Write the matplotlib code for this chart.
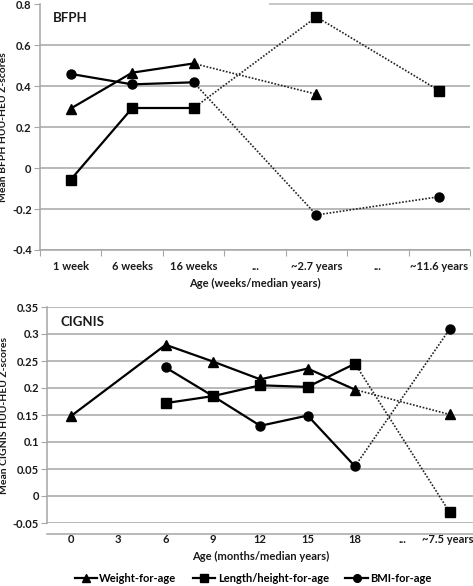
import numpy as np
import matplotlib
matplotlib.use("Agg")
import matplotlib.pyplot as plt
from matplotlib.lines import Line2D

plt.rcParams['font.family'] = ['Lato', 'DejaVu Sans']

# ---- BFPH data ----
bfph_cats = ["1 week", "6 weeks", "16 weeks", "...", "~2.7 years", "...", "~11.6 years"]
bfph_weight = [0.29, 0.465, 0.51, None, 0.36, None, None]
bfph_length = [-0.057, 0.292, 0.292, None, 0.737, None, 0.377]
bfph_bmi = [0.459, 0.408, 0.418, None, -0.229, None, -0.14]
bfph_yticks = [-0.4, -0.2, 0, 0.2, 0.4, 0.6, 0.8]
bfph_ylabels = ["-0.4", "-0.2", "0", "0.2", "0.4", "0.6", "0.8"]

# ---- CIGNIS data ----
cig_cats = ["0", "3", "6", "9", "12", "15", "18", "...", "~7.5 years"]
cig_weight = [0.148, None, 0.28, 0.249, 0.216, 0.236, 0.197, None, 0.151]
cig_length = [None, None, 0.172, 0.185, 0.205, 0.202, 0.245, None, -0.030]
cig_bmi = [None, None, 0.238, 0.185, 0.130, 0.149, 0.055, None, 0.309]
cig_yticks = [-0.05, 0, 0.05, 0.1, 0.15, 0.2, 0.25, 0.3, 0.35]
cig_ylabels = ["-0.05", "0", "0.05", "0.1", "0.15", "0.2", "0.25", "0.3", "0.35"]

series_names = ["Weight-for-age", "Length/height-for-age", "BMI-for-age"]
markers = ["^", "s", "o"]

W, H = 473, 586
fig = plt.figure(figsize=(W / 100, H / 100), dpi=100)
GRID = "#a6a6a6"
TXT = "#1a1a1a"


def draw_series(ax, vals, marker, solid_end):
    idx = [i for i, v in enumerate(vals) if v is not None]
    for a, b in zip(idx[:-1], idx[1:]):
        if b <= solid_end:
            ax.plot([a, b], [vals[a], vals[b]], color="black", lw=1.6,
                    solid_capstyle="round", zorder=3)
        else:
            ax.plot([a, b], [vals[a], vals[b]], color="#222222", lw=1.2,
                    linestyle=(0, (1, 1)), zorder=3)
    ax.plot(idx, [vals[i] for i in idx], linestyle="none", marker=marker,
            color="black", markersize=6.5 if marker != "^" else 7, zorder=4)


def setup(ax, cats, yticks, ylabels, ylim, ylabel, axis_y, tick_len, skip_top_grid,
          xtick_pos=None):
    n = len(cats)
    ax.set_xlim(-0.5, n - 0.5)
    ax.set_ylim(*ylim)
    ax.set_yticks(yticks)
    ax.set_yticklabels(ylabels, fontsize=8, fontweight="bold", color=TXT)
    ax.tick_params(axis="y", length=4, color=GRID, pad=2)
    grid_vals = yticks[:-1] if skip_top_grid else yticks
    for v in grid_vals:
        ax.axhline(v, color=GRID, lw=1.1, zorder=0)
    for s in ["top", "right", "bottom"]:
        ax.spines[s].set_visible(False)
    ax.spines["left"].set_color(GRID)
    ax.spines["left"].set_linewidth(1.1)
    pos = list(range(n)) if xtick_pos is None else xtick_pos
    ax.set_xticks(pos)
    ax.set_xticklabels(cats, fontsize=8, fontweight="bold", color=TXT)
    ax.tick_params(axis="x", length=0, pad=8)
    sec = ax.secondary_xaxis(axis_y)
    sec.set_xticks(np.arange(-0.5, n, 1.0))
    sec.tick_params(axis="x", length=tick_len, color=GRID, labelbottom=False)
    sec.spines["bottom"].set_color(GRID)
    sec.spines["bottom"].set_linewidth(1.1)
    ax.set_ylabel(ylabel, fontsize=7.5, fontweight="bold", color=TXT, labelpad=3)


# Top panel
ax1 = fig.add_axes([40 / W, 1 - 250 / H, 430 / W, 246 / H])
setup(ax1, bfph_cats, bfph_yticks, bfph_ylabels, (-0.4, 0.8),
      "Mean BFPH HUU-HEU Z-scores", 0, 4, True)
ax1.axhline(0.8, xmin=0.535, xmax=1.01, color="#c8c8c8", lw=1.4, zorder=0,
            clip_on=False)
for vals, m in zip([bfph_weight, bfph_length, bfph_bmi], markers):
    draw_series(ax1, vals, m, 2)
ax1.set_xlabel("Age (weeks/median years)", fontsize=8, fontweight="bold",
               color=TXT, labelpad=4)
ax1.text(0.03, 0.945, "BFPH", transform=ax1.transAxes, fontsize=9.5,
         fontweight="bold", color=TXT, va="center")

# Bottom panel
ax2 = fig.add_axes([47.3 / W, 1 - 523 / H, 426 / W, 216 / H])
setup(ax2, cig_cats, cig_yticks, cig_ylabels, (-0.05, 0.35),
      "Mean CIGNIS HUU-HEU Z-scores", -0.05, 0, False,
      xtick_pos=list(range(len(cig_cats) - 1)) + [7.95])
for vals, m in zip([cig_weight, cig_length, cig_bmi], markers):
    draw_series(ax2, vals, m, 6)
ax2.set_xlabel("Age (months/median years)", fontsize=8, fontweight="bold",
               color=TXT, labelpad=4)
ax2.text(0.03, 0.93, "CIGNIS", transform=ax2.transAxes, fontsize=9.5,
         fontweight="bold", color=TXT, va="center")

handles = [Line2D([0], [0], color="black", lw=1.6, marker=m, markersize=5.5)
           for m in markers]
fig.legend(handles, series_names, loc="center", bbox_to_anchor=(0.535, 1 - 578 / H),
           ncol=3, frameon=False, handlelength=2.0,
           handletextpad=0.2, columnspacing=1.5,
           prop={"weight": "bold", "size": 8})

fig.savefig("out.png", dpi=100)
